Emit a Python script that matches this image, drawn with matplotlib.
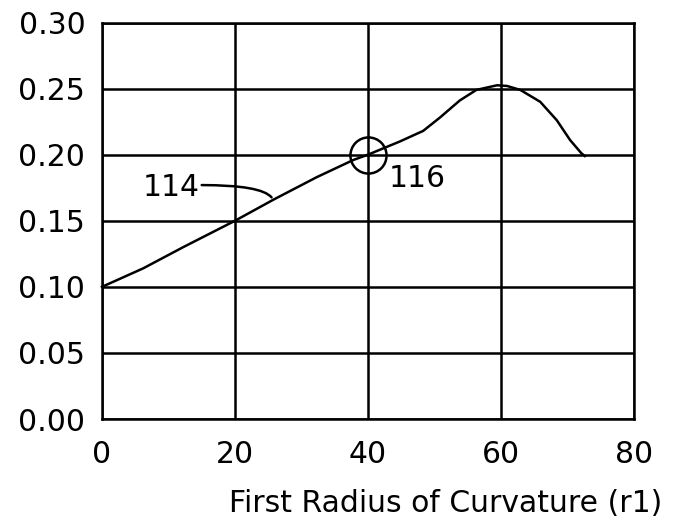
import matplotlib
matplotlib.use('Agg')
import matplotlib.pyplot as plt

# curve 114
r1 = [0, 6.2, 12.2, 20.0, 25.8, 32.3, 37.8, 40.0, 44.8, 48.3, 50.8,
      53.8, 56.3, 59.4, 60.9, 62.9, 65.9, 68.4, 70.4, 72.1, 72.6]
value = [0.100, 0.114, 0.130, 0.150, 0.166, 0.183, 0.196, 0.200, 0.210, 0.218, 0.228,
         0.241, 0.249, 0.2525, 0.252, 0.249, 0.240, 0.226, 0.211, 0.201, 0.199]

xticks = [0, 20, 40, 60, 80]
yticks = [0.00, 0.05, 0.10, 0.15, 0.20, 0.25, 0.30]
ytick_labels = ['0.00', '0.05', '0.10', '0.15', '0.20', '0.25', '0.30']

# reference numerals
circle_pt = (40, 0.20)
label_116 = (47.4, 0.1816)
label_114 = (10.45, 0.1748)
leader_start = (15.0, 0.177)
leader_end = (25.5, 0.1677)

FS = 21.5
LW = 1.8

fig = plt.figure(figsize=(6.98, 5.27), dpi=100)
ax = fig.add_axes([0.1461, 0.2049, 0.9083 - 0.1461, 0.9573 - 0.2049])

ax.set_xlim(0, 80)
ax.set_ylim(0, 0.30)
ax.set_xticks(xticks)
ax.set_yticks(yticks)
ax.set_yticklabels(ytick_labels)
ax.tick_params(length=0, labelsize=FS)
ax.tick_params(axis='x', pad=15)
ax.tick_params(axis='y', pad=12)
ax.grid(True, color='black', linewidth=LW)
ax.set_axisbelow(True)
for s in ax.spines.values():
    s.set_linewidth(LW)
    s.set_color('black')

ax.plot(r1, value, color='black', linewidth=LW, clip_on=False)

ax.plot([circle_pt[0]], [circle_pt[1]], marker='o', markersize=26, markerfacecolor='none',
        markeredgecolor='black', markeredgewidth=LW, linestyle='none')
ax.text(label_116[0], label_116[1], '116', fontsize=FS, ha='center', va='center')

ax.text(label_114[0], label_114[1], '114', fontsize=FS, ha='center', va='center')
ax.annotate('', xy=leader_end, xytext=leader_start,
            arrowprops=dict(arrowstyle='-', color='black', linewidth=LW,
                            shrinkA=0, shrinkB=0,
                            connectionstyle='angle3,angleA=0,angleB=-50'))

ax.set_xlabel('First Radius of Curvature (r1)', fontsize=FS)
ax.xaxis.set_label_coords(0.645, -0.212)
ax.xaxis.label.set_va('center')

fig.savefig('out.png', dpi=100)
